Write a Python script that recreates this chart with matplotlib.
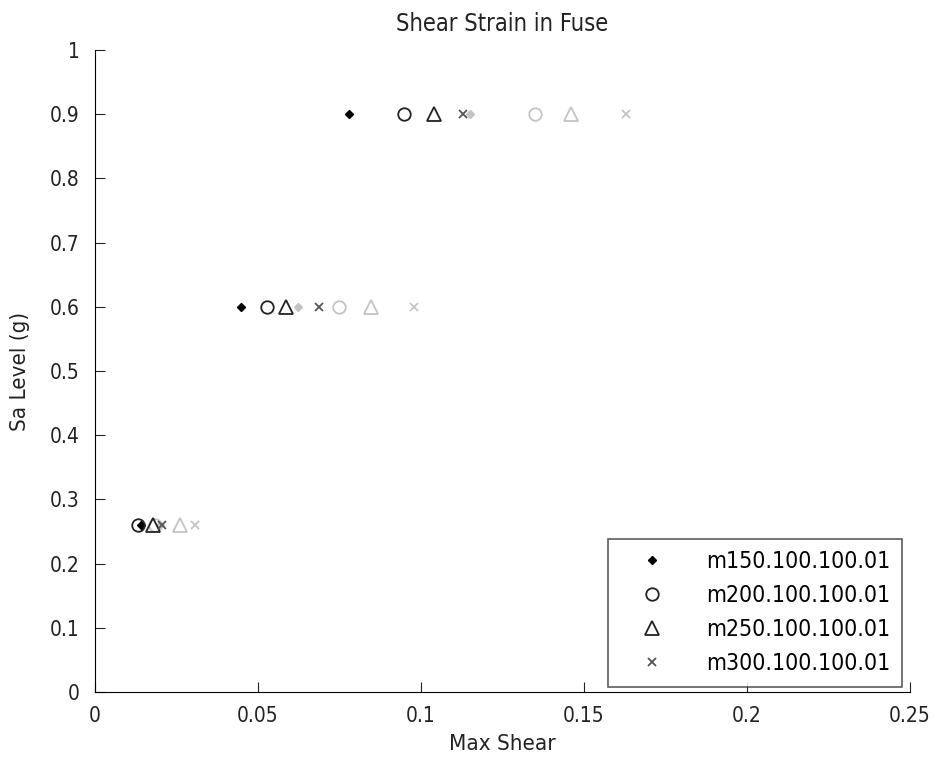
import matplotlib
matplotlib.use("Agg")
import matplotlib.pyplot as plt

plt.rcParams['font.family'] = ['DejaVu Sans']
plt.rcParams['font.stretch'] = 'condensed'

sa_levels = [0.26, 0.6, 0.9]
labels = ['m150.100.100.01', 'm200.100.100.01', 'm250.100.100.01', 'm300.100.100.01']

# black set
black_m150 = [0.0140, 0.0448, 0.0779]
black_m200 = [0.0132, 0.0528, 0.0948]
black_m250 = [0.0178, 0.0586, 0.1040]
black_m300 = [0.0206, 0.0687, 0.1130]
# gray set
gray_m150 = [0.0200, 0.0623, 0.1150]
gray_m200 = [0.0185, 0.0748, 0.1350]
gray_m250 = [0.0261, 0.0847, 0.1460]
gray_m300 = [0.0307, 0.0979, 0.1630]

fig = plt.figure(figsize=(9.41, 7.65), dpi=100)
ax = fig.add_axes([0.101, 0.0954, 0.866, 0.8392])

black_sets = [black_m150, black_m200, black_m250, black_m300]
gray_sets = [gray_m150, gray_m200, gray_m250, gray_m300]
markers = ['D', 'o', '^', 'x']
msizes = [4, 9, 10, 6]
black_cols = ['black', '#222222', '#222222', '#555555']
gray_col = '#c4c4c4'

for xs, m, ms in zip(gray_sets, markers, msizes):
    if m == 'D':
        ax.plot(xs, sa_levels, linestyle='none', marker=m, ms=ms, color=gray_col)
    else:
        ax.plot(xs, sa_levels, linestyle='none', marker=m, ms=ms, mfc='none',
                mec=gray_col, mew=1.3)
handles = []
for xs, m, ms, c, lab in zip(black_sets, markers, msizes, black_cols, labels):
    if m == 'D':
        h, = ax.plot(xs, sa_levels, linestyle='none', marker=m, ms=ms, color=c, label=lab)
    else:
        h, = ax.plot(xs, sa_levels, linestyle='none', marker=m, ms=ms, mfc='none',
                     mec=c, mew=1.3, label=lab)
    handles.append(h)

ax.set_xlim(0, 0.25)
ax.set_ylim(0, 1)
ax.set_xticks([0, 0.05, 0.1, 0.15, 0.2, 0.25])
ax.set_xticklabels(['0', '0.05', '0.1', '0.15', '0.2', '0.25'])
ax.set_yticks([i / 10 for i in range(11)])
ax.set_yticklabels(['0', '0.1', '0.2', '0.3', '0.4', '0.5', '0.6', '0.7', '0.8', '0.9', '1'])
ax.spines['top'].set_visible(False)
ax.spines['right'].set_visible(False)
ax.tick_params(direction='in', length=7, labelsize=15, colors='#222222')
ax.tick_params(axis='y', pad=11)
ax.tick_params(axis='x', pad=10)
ax.set_xlabel('Max Shear', fontsize=16, color='#222222', labelpad=6)
ax.set_ylabel('Sa Level (g)', fontsize=16, color='#222222', labelpad=14)
ax.set_title('Shear Strain in Fuse', fontsize=17, color='#222222', pad=14)

leg = ax.legend(handles=handles, loc='lower right', bbox_to_anchor=(0.990, 0.008),
                fontsize=16.5, frameon=True, fancybox=False, edgecolor='#333333',
                handlelength=2.9, handletextpad=0.9, borderpad=0.5,
                labelspacing=0.48, borderaxespad=0)
leg.get_frame().set_linewidth(1.2)

fig.savefig('out.png', dpi=100)
